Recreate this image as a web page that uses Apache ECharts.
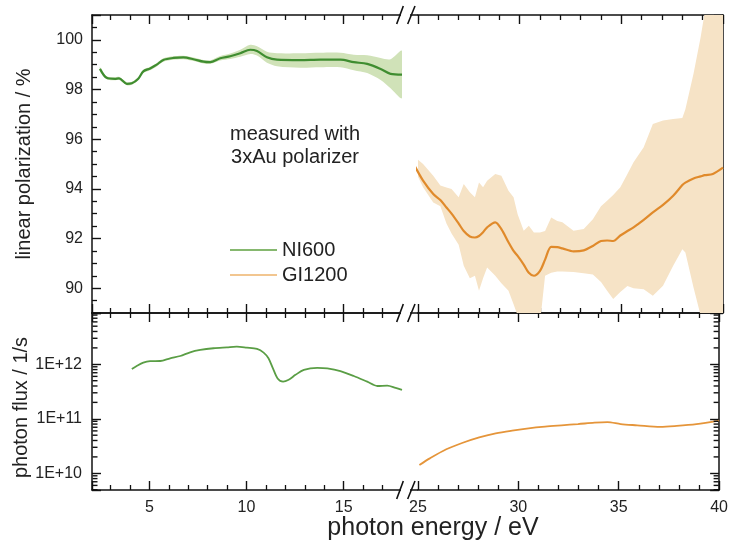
<!DOCTYPE html>
<html>
<head>
<meta charset="utf-8">
<script src="https://cdn.jsdelivr.net/npm/echarts@6/dist/echarts.min.js"></script>
<style>
html,body{margin:0;padding:0;background:#fff;}
#chart{width:731px;height:546px;}
</style>
</head>
<body>
<div id="chart"></div>
<script>
// NI600 linear polarization, left part of the broken axis
var niEnergy = [2.46,2.80,3.23,3.44,3.84,4.10,4.43,4.69,5.04,5.38,5.72,6.24,6.75,7.27,7.79,8.13,8.65,9.16,9.68,10.19,10.54,11.05,11.57,12.77,13.80,14.83,15.52,16.21,16.90,17.41,18.00];
var niPol     = [98.83,98.47,98.43,98.45,98.23,98.25,98.43,98.73,98.85,99.00,99.19,99.27,99.29,99.22,99.12,99.10,99.26,99.34,99.46,99.60,99.55,99.30,99.20,99.18,99.20,99.20,99.10,99.03,98.83,98.63,98.60];
var niPolLow  = [98.76,98.41,98.37,98.39,98.17,98.19,98.37,98.66,98.78,98.93,99.12,99.20,99.22,99.15,99.05,99.03,99.17,99.23,99.32,99.43,99.37,99.08,98.94,98.88,98.90,98.90,98.78,98.66,98.38,98.05,97.66];
var niPolHigh = [98.90,98.53,98.49,98.51,98.29,98.31,98.49,98.80,98.92,99.07,99.26,99.34,99.36,99.29,99.19,99.17,99.35,99.45,99.60,99.80,99.74,99.52,99.46,99.46,99.48,99.48,99.40,99.38,99.27,99.22,99.55];

// GI1200 linear polarization, right part
var giEnergy = [24.85,25.25,25.75,26.1,26.4,26.65,27.0,27.25,27.55,27.8,28.0,28.2,28.4,28.8,29.1,29.45,29.7,29.9,30.2,30.45,30.7,31.0,31.25,31.55,31.85,32.1,32.65,33.15,33.6,34.0,34.3,34.6,34.95,35.3,35.6,36.1,36.55,37.05,37.55,38.0,38.15,38.55,38.9,39.1,39.5,40.0];
var giPol     = [94.9,94.33,93.79,93.55,93.25,93.0,92.6,92.3,92.08,92.04,92.1,92.25,92.45,92.65,92.38,91.85,91.5,91.3,90.95,90.62,90.5,90.7,91.15,91.66,91.65,91.6,91.48,91.52,91.7,91.9,91.92,91.9,92.12,92.3,92.45,92.75,93.05,93.35,93.72,94.15,94.25,94.42,94.5,94.55,94.6,94.85];
var giPolLow  = [94.75,94.06,93.45,93.3,92.6,92.2,91.75,90.9,90.4,90.5,89.9,90.4,90.83,90.5,90.2,89.9,89.35,88.9,88.4,88.2,88.3,88.6,90.5,90.62,90.67,90.67,90.65,90.6,90.55,90.25,89.9,89.56,89.85,90.09,90.0,89.96,89.69,90.1,90.9,91.57,91.44,90.03,88.9,88.3,87.5,86.5];
var giPolHigh = [95.27,95.0,94.53,94.13,94.05,93.99,93.66,94.19,93.86,93.66,94.26,94.06,94.33,94.6,94.53,93.92,93.66,92.98,92.31,92.51,92.24,92.24,92.3,92.85,92.7,92.65,92.31,92.38,92.78,93.3,93.52,93.75,94.06,94.6,95.07,95.67,96.61,96.75,96.81,96.85,97.2,98.63,100.1,101.1,102.5,104.0];

// photon flux (1/s)
var niFluxEnergy = [4.10,4.35,4.69,5.04,5.56,6.07,6.59,7.10,7.62,8.30,8.99,9.50,10.02,10.54,10.88,11.13,11.36,11.60,11.88,12.17,12.52,12.95,13.64,14.16,14.83,15.52,16.21,16.73,17.24,17.67,18.00];
var niFlux = [8.2e11,9.3e11,1.07e12,1.14e12,1.15e12,1.29e12,1.42e12,1.66e12,1.83e12,1.97e12,2.05e12,2.11e12,2.02e12,1.91e12,1.64e12,1.29e12,8.4e11,5.5e11,4.8e11,5.2e11,6.4e11,7.9e11,8.6e11,8.4e11,7.5e11,6.1e11,4.8e11,4.0e11,4.07e11,3.7e11,3.4e11];
var giFluxEnergy = [25.07,25.59,26.41,27.23,28.05,28.87,29.69,30.51,31.33,32.15,32.97,33.79,34.44,35.10,35.92,37.07,37.89,38.87,40.0];
var giFlux = [1.42e10,1.88e10,2.76e10,3.64e10,4.57e10,5.4e10,6.07e10,6.7e10,7.2e10,7.6e10,8.0e10,8.5e10,8.7e10,8.0e10,7.6e10,7.1e10,7.4e10,8.0e10,9.25e10];

// tick labels
var polTicks = [90,92,94,96,98,100];
var fluxTicks = [10,11,12];          // powers of ten
var energyTicks = [5,10,15,25,30,35,40];

var FLUX_MIN = 4.94e9, FLUX_MAX = 8.73e12;

var FONT = "'Liberation Sans', Arial, Helvetica, sans-serif";
var INK = '#111';

//log minor ticks 2..9 x 10^n inside the flux range
var fluxMinor = [];
[9,10,11,12].forEach(function(p){
	for(var m=2;m<=9;m++){
		var v = m * Math.pow(10,p);
		if(v > FLUX_MIN && v < FLUX_MAX) fluxMinor.push(v);
	}
});

function pairs(xs, ys){
	return xs.map(function(x,i){ return [x, ys[i]]; });
}

//error band: one polygon between lower and upper curve, clipped to its grid
function band(xi, yi, xs, lo, hi, color, smooth){
	var rows = xs.map(function(x,i){ return [x, lo[i], hi[i]]; });
	return {
		type:'custom', xAxisIndex:xi, yAxisIndex:yi, silent:true, z:1,
		data:rows, encode:{x:0, y:[1,2]},
		renderItem:function(params, api){
			if(params.dataIndex !== 0) return;
			var up = rows.map(function(r){ return api.coord([r[0], r[2]]); });
			var dn = rows.map(function(r){ return api.coord([r[0], r[1]]); }).reverse();
			var cs = params.coordSys;
			return {
				type:'polygon',
				shape:{points:up.concat(dn), smooth:smooth},
				style:{fill:color},
				clipPath:{type:'rect', shape:{x:cs.x, y:cs.y, width:cs.width, height:cs.height}}
			};
		}
	};
}

//minor ticks of a log axis as tiny bars at the grid edge (dir = +1 left axis, -1 right axis)
function logMinor(xi, yi, xEdge, dir){
	return {
		type:'scatter', xAxisIndex:xi, yAxisIndex:yi, z:5,
		data:fluxMinor.map(function(v){ return [xEdge, v]; }),
		symbol:'rect', symbolSize:[5,1.4], symbolOffset:[dir*3, 0],
		itemStyle:{color:INK, opacity:1}
	};
}

function xAx(grid, pos, min, max, showLabel){
	return {
		type:'value', gridIndex:grid, position:pos, min:min, max:max, splitNumber:3,
		axisLine:{show:true, onZero:false, lineStyle:{color:INK, width:1.5}},
		axisTick:{show:true, inside:true, length:9, lineStyle:{color:INK, width:1.4}},
		minorTick:{show:true, splitNumber:5, length:5, lineStyle:{color:INK, width:1.3}},
		splitLine:{show:false},
		axisLabel:{
			show:showLabel, margin:10, fontSize:16, color:'#222', fontFamily:FONT,
			formatter:function(v){ return energyTicks.indexOf(v) >= 0 ? String(v) : ''; }
		}
	};
}

function polAx(grid, pos, showLabel){
	return {
		type:'value', gridIndex:grid, position:pos, min:89, max:101, splitNumber:6,
		axisLine:{show:true, onZero:false, lineStyle:{color:INK, width:1.5}},
		axisTick:{show:true, inside:true, length:9, lineStyle:{color:INK, width:1.4}},
		minorTick:{show:true, splitNumber:4, length:5, lineStyle:{color:INK, width:1.3}},
		splitLine:{show:false},
		axisLabel:{
			show:showLabel, margin:9, fontSize:16, color:'#222', fontFamily:FONT,
			formatter:function(v){ return polTicks.indexOf(v) >= 0 ? String(v) : ''; }
		}
	};
}

function fluxAx(grid, pos, showLabel){
	return {
		type:'log', logBase:10, gridIndex:grid, position:pos, min:FLUX_MIN, max:FLUX_MAX,
		axisLine:{show:true, onZero:false, lineStyle:{color:INK, width:1.5}},
		axisTick:{show:true, inside:true, length:9, lineStyle:{color:INK, width:1.4}},
		minorTick:{show:false},
		splitLine:{show:false},
		axisLabel:{
			show:showLabel, margin:10, fontSize:16, color:'#222', fontFamily:FONT,
			formatter:function(v){
				var p = Math.round(Math.log(v) / Math.LN10);
				return (Math.abs(Math.log(v) / Math.LN10 - p) < 1e-6 && fluxTicks.indexOf(p) >= 0) ? '1E+' + p : '';
			}
		}
	};
}

var myChart = echarts.init(document.getElementById('chart'));

var yAxes = [polAx(0,'left',true), polAx(1,'right',false), fluxAx(2,'left',true), fluxAx(3,'right',false)];
yAxes[0].name = 'linear polarization / %';
yAxes[2].name = 'photon flux / 1/s';
[0,2].forEach(function(i){
	yAxes[i].nameLocation = 'middle';
	yAxes[i].nameGap = 58;
	yAxes[i].nameTextStyle = {fontSize:20, color:'#222', fontFamily:FONT};
});
yAxes[2].nameTextStyle.padding = [0,12,0,0];

// break marks on the three horizontal axis lines
var breakMarks = [];
[15, 313, 490].forEach(function(yl){
	breakMarks.push({type:'rect', z:100, shape:{x:401, y:yl-9, width:9.5, height:18}, style:{fill:'#fff'}});
	breakMarks.push({type:'line', z:101, shape:{x1:410, y1:yl, x2:418, y2:yl}, style:{stroke:INK, lineWidth:1.5}});
	breakMarks.push({type:'line', z:101, shape:{x1:396.7, y1:yl+9, x2:403.3, y2:yl-9}, style:{stroke:INK, lineWidth:1.6}});
	breakMarks.push({type:'line', z:101, shape:{x1:407.7, y1:yl+9, x2:415, y2:yl-9}, style:{stroke:INK, lineWidth:1.6}});
});

var option = {
	animation:false,
	backgroundColor:'#fff',
	textStyle:{fontFamily:FONT},
	grid:[
		{left:92, top:15, width:310, height:298},
		{left:418, top:15, width:305, height:298},
		{left:92, top:313, width:310, height:177},
		{left:418, top:313, width:305, height:177}
	],
	xAxis:[
		xAx(0,'bottom',2.05,18,false), xAx(0,'top',2.05,18,false),
		xAx(1,'bottom',25,40,false), xAx(1,'top',25,40,false),
		xAx(2,'bottom',2.05,18,true), xAx(2,'top',2.05,18,false),
		xAx(3,'bottom',25,40,true), xAx(3,'top',25,40,false)
	],
	yAxis:yAxes,
	legend:{
		data:[{name:'NI600', itemStyle:{color:'#86b86f'}}, {name:'GI1200', itemStyle:{color:'#f2c690'}}],
		orient:'vertical', left:230, top:240, padding:0, icon:'rect', itemWidth:47, itemHeight:2, itemGap:5,
		selectedMode:false,
		textStyle:{fontSize:20, color:'#222', fontFamily:FONT}
	},
	graphic:[
		{type:'text', x:295, y:123, z:50, style:{text:'measured with\n3xAu polarizer', font:'20px ' + FONT, fill:'#222', textAlign:'center', align:'center', textVerticalAlign:'top', verticalAlign:'top', lineHeight:23}},
		{type:'text', x:433, y:528, z:50, style:{text:'photon energy / eV', font:'25px ' + FONT, fill:'#222', textAlign:'center', align:'center', textVerticalAlign:'middle', verticalAlign:'middle'}}
	].concat(breakMarks),
	series:[
		band(0, 0, niEnergy, niPolLow, niPolHigh, '#d0e2b8', 0.3),
		{name:'NI600', type:'line', xAxisIndex:0, yAxisIndex:0, data:pairs(niEnergy, niPol),
			symbol:'none', smooth:0.3, lineStyle:{color:'#3f8d30', width:2.2}, itemStyle:{color:'#3f8d30'}, z:3},

		band(2, 1, giEnergy, giPolLow, giPolHigh, '#f6e3c6', 0),
		{name:'GI1200', type:'line', xAxisIndex:2, yAxisIndex:1, data:pairs(giEnergy, giPol),
			symbol:'none', smooth:0.3, lineStyle:{color:'#e08a2b', width:2.2}, itemStyle:{color:'#e08a2b'}, z:3},

		{name:'NI600', type:'line', xAxisIndex:4, yAxisIndex:2, data:pairs(niFluxEnergy, niFlux),
			symbol:'none', smooth:0.3, lineStyle:{color:'#5a9e45', width:1.8}, itemStyle:{color:'#5a9e45'}, z:3},
		{name:'GI1200', type:'line', xAxisIndex:6, yAxisIndex:3, data:pairs(giFluxEnergy, giFlux),
			symbol:'none', smooth:0.3, lineStyle:{color:'#e5953a', width:1.8}, itemStyle:{color:'#e5953a'}, z:3},

		logMinor(4, 2, 2.05, 1),
		logMinor(6, 3, 40, -1)
	]
};

myChart.setOption(option);
</script>
</body>
</html>
